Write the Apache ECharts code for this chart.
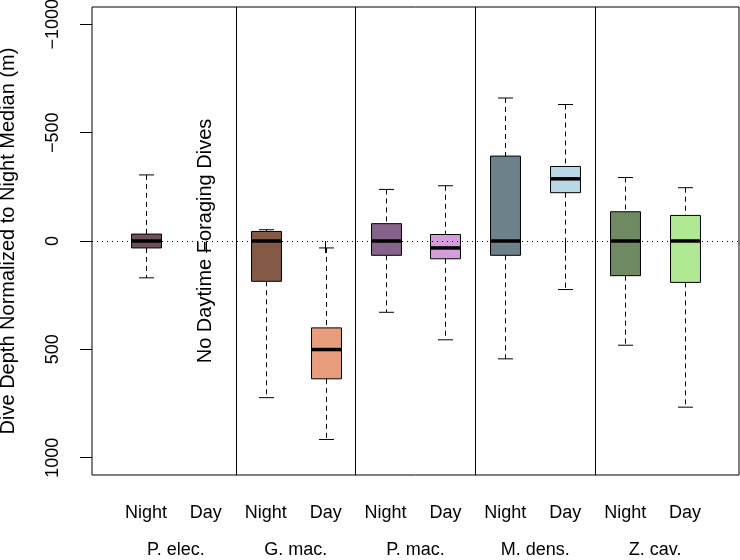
<!DOCTYPE html>
<html>
<head>
<meta charset="utf-8">
<script src="https://cdn.jsdelivr.net/npm/echarts@6/dist/echarts.min.js"></script>
<style>
html,body{margin:0;padding:0;background:#fff;}
#chart{width:740px;height:560px;}
</style>
</head>
<body>
<div id="chart"></div>
<script>
// ---- data ----
var species = ['P. elec.', 'G. mac.', 'P. mac.', 'M. dens.', 'Z. cav.'];
var speciesPos = [1.5, 3.5, 5.5, 7.5, 9.5];
var periods = ['Night', 'Day', 'Night', 'Day', 'Night', 'Day', 'Night', 'Day', 'Night', 'Day'];
var positions = [1, 2, 3, 4, 5, 6, 7, 8, 9, 10];
// whisker ends (shallow end = negative), quartiles, median (m, normalized to night median)
var whiskerShallow = [-305, null, -52, 32, -238, -255, -660, -630, -293, -246];
var q1 = [-32, null, -44, 401, -80, -30, -392, -344, -135, -118];
var median = [0, null, 0, 501, 0, 32, 0, -287, 0, 0];
var q3 = [32, null, 186, 636, 66, 82, 66, -223, 160, 191];
var whiskerDeep = [170, null, 723, 916, 329, 456, 544, 224, 481, 767];
var boxColors = ['#6e4f5a', null, '#835a45', '#e89e7c', '#86638a', '#d39ed9', '#6c818a', '#b8d8e6', '#6f8a62', '#b0e893'];
var separators = [2.5, 4.5, 6.5, 8.5];
var yTicks = [-1000, -500, 0, 500, 1000];
var noteText = 'No Daytime Foraging Dives';
var notePos = 2;
var noteValue = 0;

var FONT = '"Liberation Sans", Arial, Helvetica, sans-serif';

var boxData = [];
for (var i = 0; i < positions.length; i++) {
  if (median[i] === null) continue;
  boxData.push([positions[i], whiskerShallow[i], q1[i], median[i], q3[i], whiskerDeep[i], i]);
}

function renderBox(params, api) {
  var x = api.value(0);
  var idx = api.value(6);
  var pS = api.coord([x, api.value(1)]);
  var p1 = api.coord([x, api.value(2)]);
  var pm = api.coord([x, api.value(3)]);
  var p3 = api.coord([x, api.value(4)]);
  var pD = api.coord([x, api.value(5)]);
  var halfBox = (api.coord([x + 0.25, 0])[0] - api.coord([x, 0])[0]);
  var halfCap = halfBox / 2;
  var cx = Math.round(pm[0]) + 0.5;
  var top = Math.min(p1[1], p3[1]);
  var bot = Math.max(p1[1], p3[1]);
  var dash = {stroke: '#000', lineWidth: 1, lineDash: [5, 4]};
  var solid = {stroke: '#000', lineWidth: 1};
  return {
    type: 'group',
    children: [
      {type: 'line', shape: {x1: cx, y1: pS[1], x2: cx, y2: top}, style: dash},
      {type: 'line', shape: {x1: cx, y1: bot, x2: cx, y2: pD[1]}, style: dash},
      {type: 'line', shape: {x1: cx - halfCap, y1: pS[1], x2: cx + halfCap, y2: pS[1]}, style: solid},
      {type: 'line', shape: {x1: cx - halfCap, y1: pD[1], x2: cx + halfCap, y2: pD[1]}, style: solid},
      {type: 'rect', shape: {x: cx - halfBox, y: top, width: 2 * halfBox, height: bot - top},
        style: {fill: boxColors[idx], stroke: '#000', lineWidth: 1}},
      {type: 'line', shape: {x1: cx - halfBox, y1: pm[1], x2: cx + halfBox, y2: pm[1]},
        style: {stroke: '#000', lineWidth: 3.5}}
    ]
  };
}

function renderNote(params, api) {
  var p = api.coord([api.value(0), api.value(1)]);
  return {
    type: 'text',
    x: p[0], y: p[1],
    rotation: Math.PI / 2,
    style: {text: noteText, font: '20px ' + FONT, fill: '#000', align: 'center', verticalAlign: 'middle'}
  };
}

var chart = echarts.init(document.getElementById('chart'));
var option = {
  animation: false,
  backgroundColor: '#fff',
  grid: {left: 92, right: 1, top: 7, bottom: 85, show: true, borderColor: '#000', borderWidth: 1,
    backgroundColor: 'transparent', containLabel: false, outerBoundsMode: 'none'},
  xAxis: [{
    type: 'value', min: 0.1, max: 10.9, position: 'bottom',
    splitLine: {show: false}, axisLine: {show: false},
    axisTick: {show: true, customValues: positions, length: 12, inside: false, lineStyle: {color: '#000'}},
    axisLabel: {show: true, customValues: positions, margin: 29, color: '#000', fontSize: 18, fontFamily: FONT,
      formatter: function (v) { var k = positions.indexOf(Math.round(v)); return k >= 0 ? periods[k] : ''; }}
  }, {
    type: 'value', min: 0.1, max: 10.9, position: 'bottom',
    splitLine: {show: false}, axisLine: {show: false}, axisTick: {show: false},
    axisLabel: {show: true, customValues: speciesPos, margin: 66, color: '#000', fontSize: 18, fontFamily: FONT,
      formatter: function (v) { var k = speciesPos.indexOf(v); return k >= 0 ? species[k] : ''; }}
  }],
  yAxis: {
    type: 'value', inverse: true, min: -1080, max: 1080,
    splitLine: {show: false}, axisLine: {show: false},
    axisTick: {show: true, customValues: yTicks, length: 12, lineStyle: {color: '#000'}},
    axisLabel: {show: true, customValues: yTicks, rotate: 90, margin: 30, color: '#000', fontSize: 18, fontFamily: FONT,
      formatter: function (v) { return String(v).replace('-', '\u2212'); }},
    name: 'Dive Depth Normalized to Night Median (m)',
    nameLocation: 'middle', nameRotate: 90, nameGap: 74,
    nameTextStyle: {color: '#000', fontSize: 20, fontFamily: FONT}
  },
  series: [{
    type: 'custom',
    renderItem: renderBox,
    data: boxData,
    encode: {x: 0, y: [1, 2, 3, 4, 5]},
    silent: true,
    z: 2
  }, {
    type: 'custom',
    renderItem: renderNote,
    data: [[notePos, noteValue]],
    encode: {x: 0, y: 1},
    silent: true,
    z: 3,
    markLine: {
      silent: true, symbol: 'none', label: {show: false},
      data: separators.map(function (s) { return {xAxis: s, lineStyle: {color: '#000', width: 1, type: 'solid'}}; })
        .concat([{yAxis: 0, lineStyle: {color: '#000', width: 1.2, type: [1, 4]}}])
    }
  }]
};
chart.setOption(option);
</script>
</body>
</html>
